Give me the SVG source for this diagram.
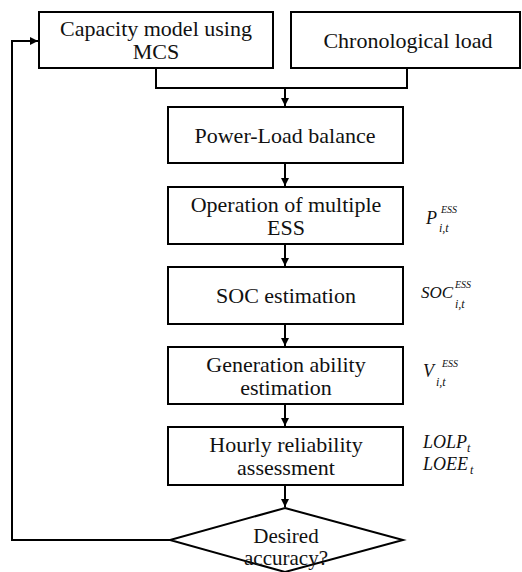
<svg xmlns="http://www.w3.org/2000/svg" width="522" height="572" viewBox="0 0 522 572">
  <style>
    .box { fill: #fff; stroke: #000; stroke-width: 2; }
    .lbl { font-size: 22px; fill: #111; text-anchor: middle; }
    .math { font-style: italic; font-size: 18px; fill: #111; }
    .sup { font-style: italic; font-size: 10px; fill: #111; }
    .sub { font-style: italic; font-size: 12px; fill: #111; }
    .conn { fill: none; stroke: #000; stroke-width: 2; }
  </style>
  <defs>
    <marker id="arr" viewBox="0 0 10 10" refX="10" refY="5" markerWidth="4" markerHeight="4" orient="auto" markerUnits="strokeWidth">
      <path d="M0,0 L10,5 L0,10 Z" fill="#000"/>
    </marker>
  </defs>
  <rect width="522" height="572" fill="#fff"/>

  <g id="connectors">
    <path class="conn" d="M156,68 V88 H407 V68"/>
    <path class="conn" d="M285,88 V106" marker-end="url(#arr)"/>
    <path class="conn" d="M285,163 V186" marker-end="url(#arr)"/>
    <path class="conn" d="M285,244 V266" marker-end="url(#arr)"/>
    <path class="conn" d="M285,324 V346" marker-end="url(#arr)"/>
    <path class="conn" d="M285,404 V426" marker-end="url(#arr)"/>
    <path class="conn" d="M285,485 V507" marker-end="url(#arr)"/>
    <path class="conn" d="M170,540 H12 V41 H38" marker-end="url(#arr)"/>
  </g>

  <g font-family="Liberation Serif, Tinos, Times New Roman, DejaVu Serif, serif">
  <g id="capacity">
    <rect class="box" x="39" y="12" width="234" height="56"/>
    <text class="lbl" x="156" y="36">Capacity model using</text>
    <text class="lbl" x="156" y="59">MCS</text>
  </g>
  <g id="chrono">
    <rect class="box" x="291" y="12" width="229" height="56"/>
    <text class="lbl" x="408" y="48">Chronological load</text>
  </g>
  <g id="balance">
    <rect class="box" x="168" y="107" width="235" height="56"/>
    <text class="lbl" x="285" y="143">Power-Load balance</text>
  </g>
  <g id="operation">
    <rect class="box" x="168" y="187" width="235" height="57"/>
    <text class="lbl" x="286" y="212">Operation of multiple</text>
    <text class="lbl" x="286" y="235">ESS</text>
    <text class="math" x="426" y="224">P</text>
    <text class="sup" x="441" y="213">ESS</text>
    <text class="sub" x="439" y="232">i,t</text>
  </g>
  <g id="soc">
    <rect class="box" x="168" y="267" width="235" height="57"/>
    <text class="lbl" x="286" y="303">SOC estimation</text>
    <text class="math" x="421" y="298" style="font-size:17px">SOC</text>
    <text class="sup" x="455" y="288">ESS</text>
    <text class="sub" x="455" y="308">i,t</text>
  </g>
  <g id="generation">
    <rect class="box" x="168" y="347" width="235" height="57"/>
    <text class="lbl" x="286" y="372">Generation ability</text>
    <text class="lbl" x="286" y="395">estimation</text>
    <text class="math" x="423" y="377">V</text>
    <text class="sup" x="442" y="367">ESS</text>
    <text class="sub" x="436" y="386">i,t</text>
  </g>
  <g id="hourly">
    <rect class="box" x="168" y="427" width="235" height="58"/>
    <text class="lbl" x="286" y="452">Hourly reliability</text>
    <text class="lbl" x="286" y="475">assessment</text>
    <text class="math" x="423" y="448">LOLP</text>
    <text class="sub" x="467" y="452">t</text>
    <text class="math" x="423" y="470">LOEE</text>
    <text class="sub" x="470" y="474">t</text>
  </g>
  <g id="decision">
    <polygon class="box" points="285,508 403,540 285,572 170,540"/>
    <text class="lbl" x="286" y="543" style="font-size:21px">Desired</text>
    <text class="lbl" x="286" y="565" style="font-size:21px">accuracy?</text>
  </g>
  </g>
</svg>
